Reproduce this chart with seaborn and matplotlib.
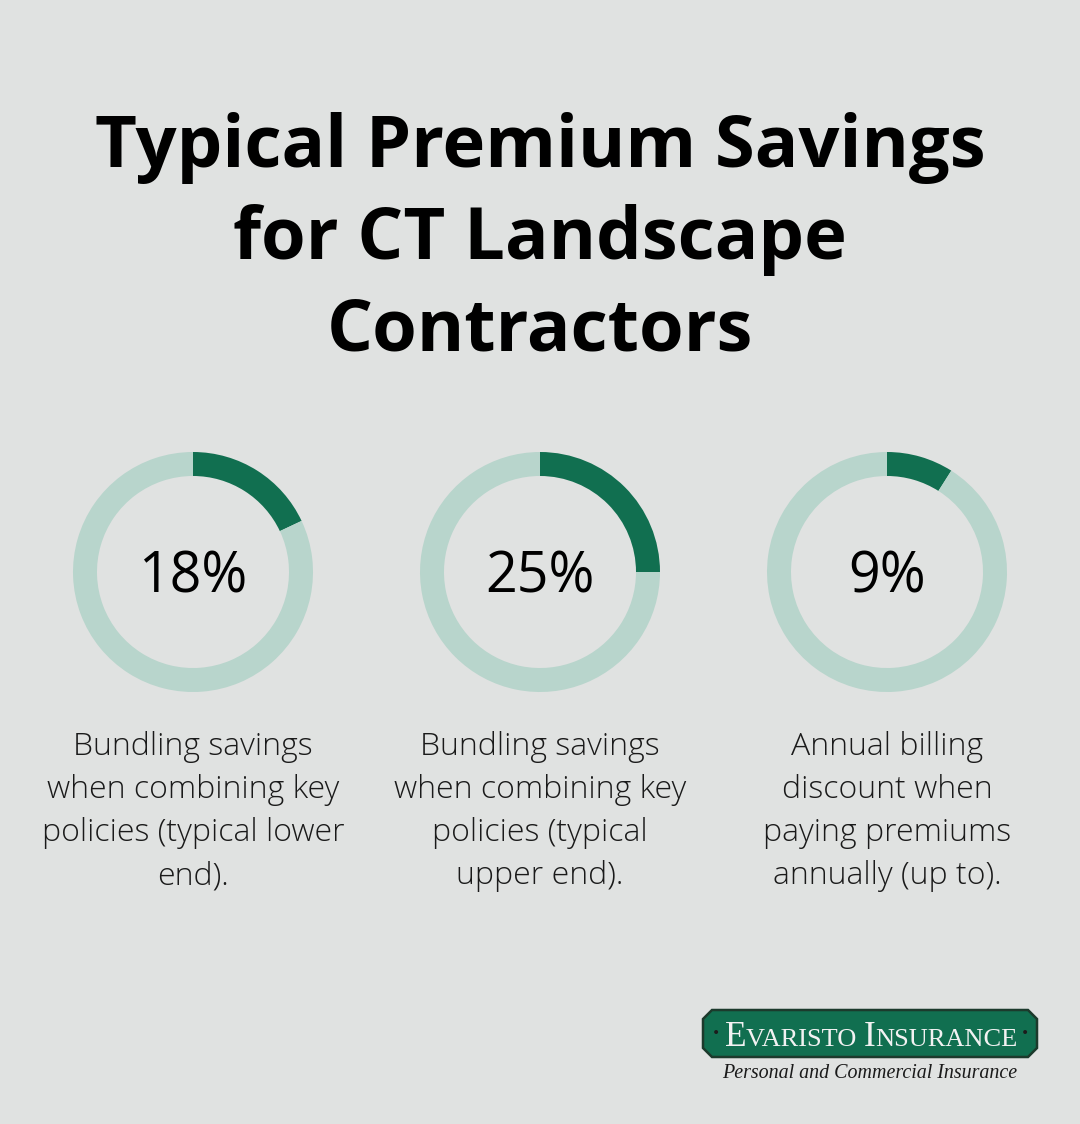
import matplotlib.pyplot as plt
import seaborn as sns
from matplotlib.patches import Polygon

# data
percent_values = [18, 25, 9]
percent_labels = ['18%', '25%', '9%']
descriptions = [
    'Bundling savings\nwhen combining key\npolicies (typical lower\nend).',
    'Bundling savings\nwhen combining key\npolicies (typical\nupper end).',
    'Annual billing\ndiscount when\npaying premiums\nannually (up to).',
]
title_lines = 'Typical Premium Savings\nfor CT Landscape\nContractors'

BG = '#e0e2e1'
DARK = '#116f50'
LIGHT = '#b8d5cc'

sns.set_theme(style='white', rc={'figure.facecolor': BG, 'axes.facecolor': BG})
plt.rcParams['font.family'] = ['Open Sans', 'DejaVu Sans']

W, H = 1080, 1124
fig = plt.figure(figsize=(W / 100, H / 100), dpi=100)
fig.patch.set_facecolor(BG)


def fx(px):
    return px / W


def fy(py):
    return 1 - py / H


fig.text(0.5, fy(240), title_lines, ha='center', va='center', fontsize=52,
         fontweight='bold', color='black', linespacing=1.36)

centers = [193, 540, 887]
cy = 572
R = 120
for cx, val, lab, desc in zip(centers, percent_values, percent_labels, descriptions):
    ax = fig.add_axes([fx(cx - R), fy(cy + R), 2 * R / W, 2 * R / H])
    ax.pie([val, 100 - val], colors=[DARK, LIGHT], startangle=90,
           counterclock=False, radius=1,
           wedgeprops=dict(width=0.2, edgecolor='none', linewidth=0))
    ax.set_xlim(-1, 1)
    ax.set_ylim(-1, 1)
    ax.set_aspect('equal')
    ax.axis('off')
    ax.text(0, -0.05, lab, ha='center', va='center', fontsize=40, color='black')
    fig.text(fx(cx), fy(731), desc, ha='center', va='top', fontsize=23,
             fontweight='light', color='#1a1a1a', linespacing=1.46)

# logo banner
bx0, bx1, by0, by1 = 703, 1037, 1010, 1057
n = 9
pts = [(bx0 + n, by0), (bx1 - n, by0), (bx1, by0 + n), (bx1, by1 - n),
       (bx1 - n, by1), (bx0 + n, by1), (bx0, by1 - n), (bx0, by0 + n)]
banner = Polygon([(fx(x), fy(y)) for x, y in pts], closed=True,
                 transform=fig.transFigure, facecolor=DARK, edgecolor='#1c3a2c',
                 linewidth=1.8)
fig.patches.append(banner)
for dx in (716, 1025):
    fig.text(fx(dx), fy(1034), '•', ha='center', va='center', fontsize=10,
             color='#1c1c1c', family=['DejaVu Serif'])

# small caps title made from two sizes
pieces = [('E', 25.5), ('VARISTO ', 19), ('I', 25.5), ('NSURANCE', 19)]
fig.canvas.draw()
renderer = fig.canvas.get_renderer()
widths = []
tmp = []
for s, size in pieces:
    t = fig.text(0, 0, s, fontsize=size, family=['Liberation Serif'])
    widths.append(t.get_window_extent(renderer).width)
    tmp.append(t)
for t in tmp:
    t.remove()
total = sum(widths)
x = 871 - total / 2
for (s, size), w in zip(pieces, widths):
    fig.text(fx(x), fy(1046), s, fontsize=size, family=['Liberation Serif'],
             color='#f2f2f2', ha='left', va='baseline')
    x += w

fig.text(fx(870), fy(1074), 'Personal and Commercial Insurance', ha='center',
         va='center', fontsize=14.4, style='italic', family=['Liberation Serif'],
         color='#1a1a1a')

fig.savefig('out.png', dpi=100, facecolor=BG)
